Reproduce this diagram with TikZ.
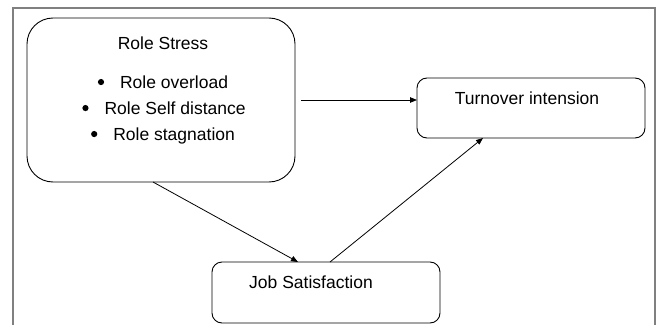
\documentclass[tikz,border=0pt]{standalone}
\usepackage{fontspec}
\setmainfont{Liberation Sans}
\usetikzlibrary{arrows.meta}
\newcommand{\itemdot}{\tikz[baseline=-6.3pt]\fill (0,0) circle (3.1pt);}
\begin{document}
\begin{tikzpicture}[x=1pt,y=1pt,>={Triangle[length=7pt,width=5.5pt]},
 every node/.style={font=\fontsize{17.5}{21}\selectfont,inner sep=0pt,outer sep=0pt},
 box/.style={draw,line width=0.9pt,rounded corners=10pt,minimum width=228pt,minimum height=60pt},
 arr/.style={->,line width=0.8pt}]
  \useasboundingbox (0,0) rectangle (659,325);
  \draw[line width=1.1pt,gray] (13,0)--(13,317)--(655,317)--(655,0);
  \node[box,rounded corners=26pt,minimum width=268pt,minimum height=164pt] (stress) at (161,225) {};
  \node[box] (turnover) at (531,217) {};
  \node[box,minimum height=61pt] (jobsat) at (326,32.5) {};
  \node (stresstitle) at (163,282) {Role Stress};
  \foreach \i/\t/\x/\y in {1/Role overload/163/243,2/Role Self distance/164/217,3/Role stagnation/163/191}
    \node[text depth=0pt] (item\i) at (\x,\y) {\itemdot\hspace{16pt}\t};
  \node (turnovertext) at (527,227) {Turnover intension};
  \node (jobsattext) at (311,43) {Job Satisfaction};
  \draw[arr] ([xshift=6pt]stress.east) -- (stress.east -| turnover.west);
  \draw[arr] ([xshift=-8pt]stress.south) -- ([xshift=-28pt]jobsat.north);
  \draw[arr] ([xshift=4pt]jobsat.north) -- ([xshift=-48pt]turnover.south);
\end{tikzpicture}
\end{document}
